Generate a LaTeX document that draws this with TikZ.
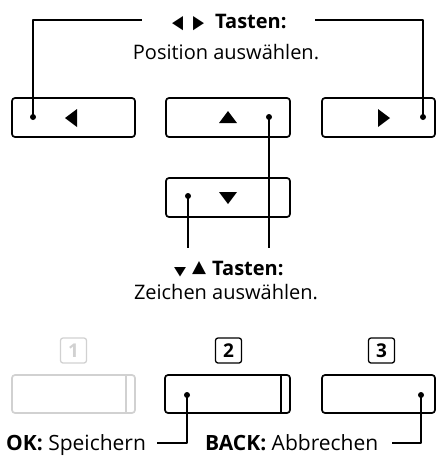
\documentclass[tikz,border=0pt]{standalone}
\usepackage{fontspec}
\setmainfont{Open Sans}
\newfontfamily\symfont{DejaVu Sans}
\definecolor{faint}{gray}{0.82}
\newcommand{\symbox}[3]{\resizebox{#1}{#2}{\symfont #3}}
\tikzset{
  key/.style={draw, line width=1.7pt, rounded corners=3pt, inner sep=0pt, minimum height=39pt},
  wire/.style={line width=1.1pt},
  dotc/.style={circle, fill, inner sep=0pt, minimum size=6pt},
  lbl/.style={font=\fontsize{20}{24}\selectfont, inner sep=0pt},
  lblb/.style={font=\fontsize{21}{24}\selectfont, inner sep=0pt},
  numbox/.style={draw, line width=1.3pt, rounded corners=2.5pt, inner sep=0pt, minimum width=26pt, minimum height=25pt, font=\fontsize{19}{20}\selectfont\bfseries},
}
\begin{document}
\begin{tikzpicture}[x=1pt,y=-1pt, line join=round]
\useasboundingbox (0,0) rectangle (436,456);
% top keys
\node[key, minimum width=123pt] (kl) at (73.5,117.5) {};
\node[key, minimum width=124pt] (ku) at (228,117.5) {};
\node[key, minimum width=113pt] (kr) at (378.5,117.5) {};
\node[key, minimum width=124pt] (kd) at (228,197.5) {};
% key arrows
\fill (77,109) -- (77,127) -- (65,118) -- cycle;
\fill (219,123) -- (237,123) -- (228,111) -- cycle;
\fill (378,109) -- (378,127) -- (390,118) -- cycle;
\fill (219,192) -- (237,192) -- (228,204) -- cycle;
% dots
\node[dotc] (dl) at (33,117) {};
\node[dotc] (du) at (269,117) {};
\node[dotc] (dr) at (423,117) {};
\node[dotc] (dd) at (188,196) {};
% labels
\node[lbl, anchor=base west] (t1) at (172,28) {\symbox{11pt}{12pt}{◀}\hspace{10pt}\symbox{11pt}{12pt}{▶}\hspace{11pt}\textbf{Tasten:}};
\node[lbl, anchor=base] (s1) at (226,59) {Position auswählen.};
\node[lbl, anchor=base west] (t2) at (174,275) {\symbox{12pt}{8pt}{▼}\hspace{6pt}\raisebox{3pt}{\symbox{14pt}{11pt}{▲}}\hspace{6pt}\textbf{Tasten:}};
\node[lbl, anchor=base] (s2) at (226,299) {Zeichen auswählen.};
% connectors top
\coordinate (c1) at (142,20);
\coordinate (c2) at (315,20);
\draw[wire] (dl.center) |- (c1);
\draw[wire] (dr.center) |- (c2);
\coordinate (c5) at (269,248);
\coordinate (c6) at (188,248);
\draw[wire] (du.center) -- (c5);
\draw[wire] (dd.center) -- (c6);
% number boxes
\node[numbox, draw=faint, text=faint] (n1) at (73.5,350.5) {1};
\node[numbox] (n2) at (228.5,350.5) {2};
\node[numbox] (n3) at (381.5,350.5) {3};
% bottom keys
\node[key, draw=faint, minimum width=123pt, minimum height=38pt] (b1) at (73.5,394) {};
\node[key, minimum width=125pt, minimum height=38pt] (b2) at (227.5,394) {};
\node[key, minimum width=113pt, minimum height=38pt] (b3) at (378.5,394) {};
\draw[line width=1.6pt, faint] (b1.north east) ++(-10,0) -- ++(0,38);
\draw[line width=1.6pt] (b2.north east) ++(-10,0) -- ++(0,38);
\node[dotc] (db2) at (187,395) {};
\node[dotc] (db3) at (421,395) {};
\coordinate (c3) at (157,443);
\coordinate (c4) at (392,443);
\draw[wire] (db2.center) |- (c3);
\draw[wire] (db3.center) |- (c4);
\node[lblb, anchor=base west] (ok) at (6,450) {\textbf{OK:} Speichern};
\node[lblb, anchor=base west] (back) at (205,450) {\textbf{BACK:} Abbrechen};
\end{tikzpicture}
\end{document}
